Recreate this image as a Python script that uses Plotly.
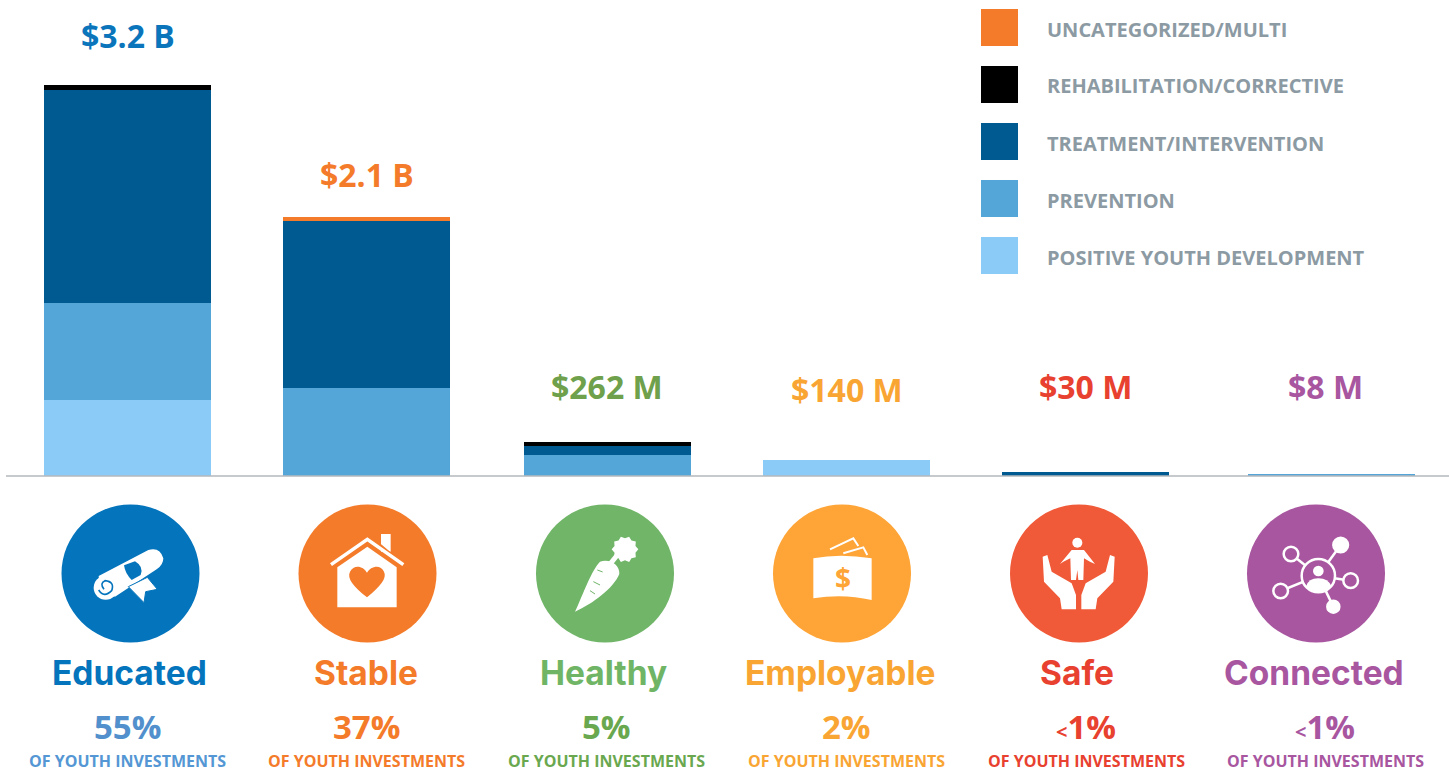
import re
import math
import plotly.graph_objects as go

# ---------- data ($ millions) ----------
categories = ["Educated", "Stable", "Healthy", "Employable", "Safe", "Connected"]
positive_youth = [622, 0, 0, 131, 0, 0]
prevention = [794, 720, 172, 0, 0, 12]
treatment = [1743, 1367, 74, 0, 30, 0]
rehabilitation = [41, 0, 33, 0, 0, 0]
uncategorized = [0, 33, 0, 0, 0, 0]

totals = ["$3.2 B", "$2.1 B", "$262 M", "$140 M", "$30 M", "$8 M"]
shares = ["55%", "37%", "5%", "2%", "<1%", "<1%"]
share_caption = "OF YOUTH INVESTMENTS"

legend_labels = ["UNCATEGORIZED/MULTI", "REHABILITATION/CORRECTIVE", "TREATMENT/INTERVENTION",
                 "PREVENTION", "POSITIVE YOUTH DEVELOPMENT"]
legend_colors = ["#F47B2A", "#000000", "#005A92", "#54A6D9", "#8BCBF7"]

# ---------- layout constants ----------
W, H = 1449, 772
BASE_Y = 476
PX_PER_M = 391 / 3200
bar_centers = [127.5, 366.5, 607.5, 846.5, 1085.5, 1331.5]
BAR_W = 167
circle_centers = [130.5, 367.5, 605, 842, 1079, 1316]
CIRCLE_Y, CIRCLE_R = 573.5, 69
circle_colors = ["#0474BC", "#F47B2A", "#70B568", "#FFA436", "#F15A38", "#A8569F"]
total_pos = [(127.5, 36), (366.5, 174), (607, 386), (847, 389), (1085.5, 386), (1325, 386)]
total_colors = ["#0B75BC", "#F47B2A", "#6FA04B", "#F9A533", "#E8412F", "#A8569F"]
name_x = [129, 366, 603, 840, 1077, 1314]
name_colors = ["#0474BC", "#F47B2A", "#6FB565", "#F9A533", "#E8412F", "#A8569F"]
share_x = [127, 366, 606, 846, 1086, 1325]
share_colors = ["#5190CC", "#F47B2A", "#6AA84F", "#F9A533", "#E8412F", "#A8569F"]
FONT = "Open Sans"
NAME_FONT = "Inter"


def px(x):
    return x / W


def py(y):
    return 1 - y / H


shapes, annotations = [], []


def text(x, y, s, size, color, family=FONT, weight=700, xanchor="center", pad=1):
    annotations.append(dict(x=px(x), y=py(y), xref="paper", yref="paper", text=s, showarrow=False,
                            xanchor=xanchor, yanchor="middle", align="center", borderpad=pad,
                            font=dict(family=family, size=size, color=color, weight=weight)))


def zpath(ox, d, fill=None, stroke=None, lw=0):
    """SVG path given in 3x zoom-crop coordinates with crop origin (ox, 490)."""
    toks = re.findall(r"[A-Za-z]|-?\d+\.?\d*", d)
    out, i = [], 0
    for t in toks:
        if t.isalpha():
            out.append(t)
            i = 0
        else:
            v = float(t)
            out.append(f"{px(ox + v / 3):.5f}" if i % 2 == 0 else f"{py(490 + v / 3):.5f}")
            i += 1
    shapes.append(dict(type="path", xref="paper", yref="paper", path=" ".join(out),
                       fillcolor=fill if fill else "rgba(0,0,0,0)",
                       line=dict(color=stroke if stroke else "rgba(0,0,0,0)", width=lw)))


def zcircle(ox, cx, cy, r, fill=None, stroke=None, lw=0):
    shapes.append(dict(type="circle", xref="paper", yref="paper",
                       x0=px(ox + (cx - r) / 3), x1=px(ox + (cx + r) / 3),
                       y0=py(490 + (cy - r) / 3), y1=py(490 + (cy + r) / 3),
                       fillcolor=fill if fill else "rgba(0,0,0,0)",
                       line=dict(color=stroke if stroke else "rgba(0,0,0,0)", width=lw)))


# ---------- bars ----------
fig = go.Figure()
for name, vals, col in [("Positive Youth Development", positive_youth, legend_colors[4]),
                        ("Prevention", prevention, legend_colors[3]),
                        ("Treatment/Intervention", treatment, legend_colors[2]),
                        ("Rehabilitation/Corrective", rehabilitation, legend_colors[1]),
                        ("Uncategorized/Multi", uncategorized, legend_colors[0])]:
    fig.add_trace(go.Bar(x=bar_centers, y=vals, width=BAR_W, name=name, marker=dict(color=col, line=dict(width=0)),
                         hovertext=categories, showlegend=False))

# baseline
shapes.append(dict(type="line", xref="paper", yref="paper", x0=px(6), x1=1, y0=py(BASE_Y), y1=py(BASE_Y),
                   line=dict(color="#B4B8BC", width=1.5), layer="above"))

# ---------- legend ----------
for i, (lab, col) in enumerate(zip(legend_labels, legend_colors)):
    top = 9 + 57 * i
    shapes.append(dict(type="rect", xref="paper", yref="paper", x0=px(981), x1=px(1018),
                       y0=py(top), y1=py(top + 37), fillcolor=col, line=dict(width=0)))
    text(1045, top + 20, lab, 20, "#8C9AA3", xanchor="left")

# ---------- circles and texts ----------
for i in range(6):
    shapes.append(dict(type="circle", xref="paper", yref="paper",
                       x0=px(circle_centers[i] - CIRCLE_R), x1=px(circle_centers[i] + CIRCLE_R),
                       y0=py(CIRCLE_Y - CIRCLE_R), y1=py(CIRCLE_Y + CIRCLE_R),
                       fillcolor=circle_colors[i], line=dict(width=0)))
    text(total_pos[i][0], total_pos[i][1], totals[i], 32, total_colors[i])
    text(name_x[i], 672.5, categories[i], 33.5, name_colors[i], family=NAME_FONT, weight=700)
    s = shares[i]
    if s.startswith("<"):
        s = '<span style="font-size:20px">&lt;</span>' + s[1:]
    text(share_x[i], 726.5, s, 33, share_colors[i], pad=0)
    text(share_x[i], 760.8, share_caption, 16, share_colors[i] if i else "#5497D4", pad=0)

# ---------- icons ----------
# Educated
B = circle_colors[0]
zpath(0, "M 296 258 L 445 180 Q 480 170 490 205 Q 490 225 470 238 L 345 320 L 300 300 Z", fill="white")
zcircle(0, 317, 293, 36, fill="white")
zpath(0, "M 296 300 Q 312 325 335 302 Q 345 275 315 272 Q 298 280 312 298", stroke=B, lw=1.6)
zpath(0, "M 372 226 L 405 214 Q 432 230 422 255 L 395 270 Q 375 250 372 226 Z", fill=B)
zpath(0, "M 385 290 L 432 338 L 437 305 L 472 298 L 442 262 Z", fill="white", stroke=B, lw=1)
# Stable
O = circle_colors[1]
zpath(0, "M 1143 132 L 1172 132 L 1172 185 L 1143 185 Z", fill="white")
zpath(0, "M 978 236 L 1102 134 L 1224 236", stroke=O, lw=3)
zpath(0, "M 993 224 L 1102 148 L 1210 224", stroke="white", lw=3.5)
zpath(0, "M 1012 352 L 1012 232 L 1102 170 L 1190 232 L 1190 352 Z", fill="white")
zpath(0, "M 1101 322 C 1060 290 1040 265 1050 245 C 1062 222 1090 228 1101 248 C 1112 228 1142 222 1152 245 C 1162 265 1140 290 1101 322 Z", fill=O)
# Healthy
G = circle_colors[2]
zpath(490, "M 255 365 C 280 310 305 240 330 215 C 360 205 390 225 388 252 C 370 295 310 340 255 365 Z", fill="white")
zpath(490, "M 358 225 L 382 195", stroke="white", lw=5)
star = []
for k in range(20):
    a = math.pi * k / 10
    r = 40 if k % 2 == 0 else 33
    star.append(f"{405 + r * math.cos(a):.1f} {178 + r * math.sin(a):.1f}")
zpath(490, "M " + " L ".join(star) + " Z", fill="white")
for d in ["M 322 240 L 338 246", "M 310 275 L 330 285", "M 300 302 L 315 312"]:
    zpath(490, d, stroke=G, lw=1)
# Employable
Y = circle_colors[3]
zpath(490, "M 970 205 Q 1050 190 1145 205 L 1145 330 Q 1060 310 970 325 Z", fill="white")
zpath(490, "M 1020 178 L 1090 145 L 1105 168", stroke="white", lw=2)
zpath(490, "M 1060 190 L 1120 172 L 1132 195", stroke="white", lw=2)
text(490 + 1060 / 3, 490 + 265 / 3, "$", 28, Y)
# Safe
zcircle(970, 322, 158, 15, fill="white")
zpath(970, "M 270 222 L 305 180 L 342 180 L 375 222 L 360 215 L 342 205 L 340 270 L 325 270 L 322 240 L 318 270 L 303 270 L 301 205 L 280 215 Z", fill="white")
for flip in (False, True):
    pts = [(218, 200), (232, 195), (245, 245), (305, 280), (318, 315), (318, 358), (275, 358), (270, 325), (222, 275)]
    if flip:
        pts = [(652 - x, y) for x, y in pts]
    zpath(970, "M " + " L ".join(f"{x} {y}" for x, y in pts) + " Z", fill="white")
# Connected
P = circle_colors[5]
cx, cy = 1045, 257
nodes = [(963, 192, 22, False), (1112, 165, 22, True), (1142, 272, 22, False), (1090, 350, 18, True), (932, 303, 22, False)]
for nx, ny, nr, solid in nodes:
    zpath(970, f"M {cx} {cy} L {nx} {ny}", stroke="white", lw=2.5)
zcircle(970, cx, cy, 50, fill=P, stroke="white", lw=2.5)
for nx, ny, nr, solid in nodes:
    zcircle(970, nx, ny, nr, fill="white" if solid else P, stroke="white", lw=2.5)
zcircle(970, 1045, 243, 16, fill="white")
zpath(970, "M 1008 290 Q 1015 265 1045 265 Q 1075 265 1085 290 Q 1045 320 1008 290 Z", fill="white")

# ---------- layout ----------
fig.update_layout(
    width=W, height=H, margin=dict(l=0, r=0, t=0, b=0), barmode="stack",
    paper_bgcolor="white", plot_bgcolor="white", showlegend=False,
    shapes=shapes, annotations=annotations,
    xaxis=dict(range=[6, W], domain=[6 / W, 1], showticklabels=False, ticks="", showgrid=False, zeroline=False,
               showline=False, fixedrange=True),
    yaxis=dict(range=[0, BASE_Y / PX_PER_M], domain=[1 - BASE_Y / H, 1], visible=False, fixedrange=True),
)
fig.write_html("out.html", config=dict(displayModeBar=False),
               post_script="document.body.style.margin='0';document.body.style.overflow='hidden';")
